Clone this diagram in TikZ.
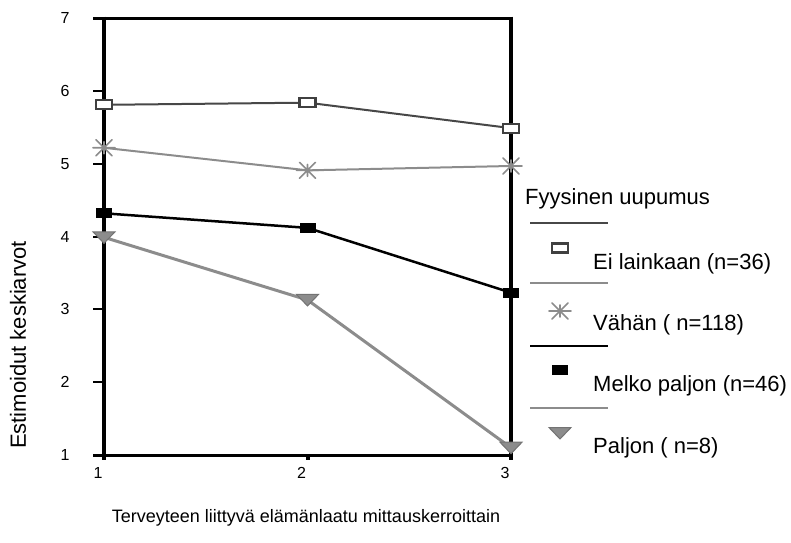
\documentclass[tikz,border=0pt]{standalone}
\usepackage{fontspec}
\setmainfont{Liberation Sans}
\begin{document}
\begin{tikzpicture}[x=1pt,y=1pt,
  txt/.style={font=\fontsize{22}{26}\selectfont, inner sep=0pt},
  xtxt/.style={font=\fontsize{18}{22}\selectfont, inner sep=0pt},
  ticklbl/.style={font=\fontsize{16}{19}\selectfont, inner sep=0pt},
  axisline/.style={line width=4pt, black},
  frameline/.style={line width=3pt, black},
  tickline/.style={line width=2pt, black},
  eiline/.style={line width=2pt, draw=black!72},
  valine/.style={line width=2pt, draw=black!45},
  meline/.style={line width=2.5pt, draw=black},
  paline/.style={line width=3pt, draw=black!45},
  hollowsq/.pic={\draw[line width=2.2pt, draw=black!75, fill=white] (-8pt,-4.5pt) rectangle (8pt,4.5pt);},
  fillsq/.pic={\fill[black] (-8pt,-5pt) rectangle (8pt,5pt);},
  astmark/.pic={\draw[line width=1.6pt, black!45, line cap=round]
      (-11pt,0) -- (11pt,0) (-8pt,-8pt) -- (8pt,8pt) (-8pt,8pt) -- (8pt,-8pt) (0,-6pt) -- (0,6pt);},
  trimark/.pic={\filldraw[line width=1pt, draw=black!55, fill=black!45] (-11pt,5.5pt) -- (11pt,5.5pt) -- (0,-6pt) -- cycle;}
]
\useasboundingbox (0,0) rectangle (791,542);

% plot area: data units, (1,1) at the lower left corner of the frame
\begin{scope}[x=203.5pt, y=72.8pt, shift={(-99.5pt,14.2pt)}]
  % frame and axes
  \coordinate (tl) at (1,7);
  \coordinate (tr) at (3,7);
  \coordinate (bl) at (1,1);
  \coordinate (br) at (3,1);
  \coordinate (bm) at (2,1);
  \draw[frameline] ([xshift=-11pt]tl) -- ([xshift=2pt]tr);
  \draw[frameline] ([xshift=-11pt]bl) -- ([xshift=2pt]br);
  \draw[axisline] ([yshift=1.5pt]tl) -- ([yshift=-5pt]bl);
  \draw[axisline] ([yshift=1.5pt]tr) -- ([yshift=-5pt]br);
  \draw[axisline] (bm) -- ([yshift=-5pt]bm);
  \foreach \v in {2,...,6} {
    \coordinate (yt\v) at (1,\v);
    \draw[tickline] (yt\v) -- ([xshift=-11pt]yt\v);
  }
  % tick labels
  \foreach \v in {1,...,7} {
    \node[ticklbl] (ylab\v) at ([xshift=-39pt,yshift=0pt]1,\v) {\v};
  }
  \foreach \t in {1,2,3} {
    \node[ticklbl] (xlab\t) at ([xshift=-6pt,yshift=-18pt]\t,1) {\t};
  }

  % series points
  \coordinate (ei1) at (1,5.81);
  \coordinate (ei2) at (2,5.84);
  \coordinate (ei3) at (3,5.49);
  \coordinate (va1) at (1,5.22);
  \coordinate (va2) at (2,4.91);
  \coordinate (va3) at (3,4.97);
  \coordinate (me1) at (1,4.32);
  \coordinate (me2) at (2,4.12);
  \coordinate (me3) at (3,3.23);
  \coordinate (pa1) at (1,3.99);
  \coordinate (pa2) at (2,3.13);
  \coordinate (pa3) at (3,1.10);

  % series lines
  \draw[eiline] (ei1) -- (ei2) -- (ei3);
  \draw[valine] (va1) -- (va2) -- (va3);
  \draw[meline] (me1) -- (me2) -- (me3);
  \draw[paline] (pa1) -- (pa2) -- (pa3);

  % series markers
  \foreach \p in {ei1,ei2,ei3} \pic at (\p) {hollowsq};
  \foreach \p in {va1,va2,va3} \pic at (\p) {astmark};
  \foreach \p in {me1,me2,me3} \pic at (\p) {fillsq};
  \foreach \p in {pa1,pa2,pa3} \pic at (\p) {trimark};
\end{scope}

% axis titles
\node[txt, rotate=90] (ytitle) at (18,197) {Estimoidut keskiarvot};
\node[xtxt] (xtitle) at (306,24) {Terveyteen liittyvä elämänlaatu mittauskerroittain};

% legend
\node[txt, anchor=base west] (legtitle) at (525,338) {Fyysinen uupumus};

\coordinate (l1a) at (530,319); \coordinate (l1b) at (608,319);
\coordinate (l2a) at (530,259); \coordinate (l2b) at (608,259);
\coordinate (l3a) at (530,196); \coordinate (l3b) at (608,196);
\coordinate (l4a) at (530,134); \coordinate (l4b) at (608,134);
\draw[eiline, line width=1.5pt] (l1a) -- (l1b);
\draw[valine, line width=1.5pt] (l2a) -- (l2b);
\draw[meline, line width=2pt] (l3a) -- (l3b);
\draw[paline, line width=1.5pt] (l4a) -- (l4b);

\coordinate (m1) at (560,294);
\coordinate (m2) at (560,231);
\coordinate (m3) at (560,172);
\coordinate (m4) at (560,109);
\pic at (m1) {hollowsq};
\pic at (m2) {astmark};
\pic at (m3) {fillsq};
\pic at (m4) {trimark};

\node[txt, anchor=base west] (leg1) at (593,273) {Ei lainkaan (n=36)};
\node[txt, anchor=base west] (leg2) at (593,212) {Vähän ( n=118)};
\node[txt, anchor=base west] (leg3) at (593,151) {Melko paljon (n=46)};
\node[txt, anchor=base west] (leg4) at (593,89) {Paljon ( n=8)};
\end{tikzpicture}
\end{document}
